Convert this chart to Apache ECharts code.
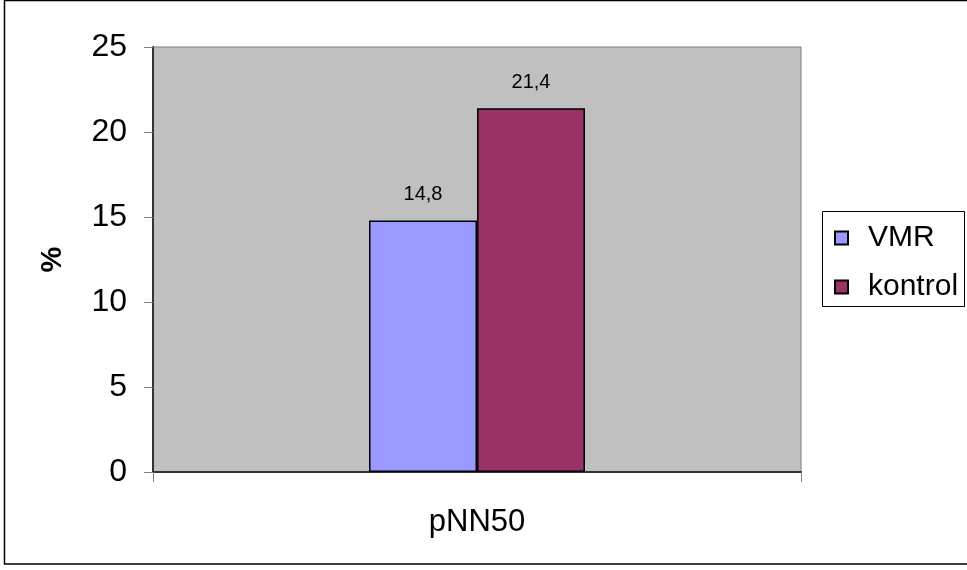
<!DOCTYPE html>
<html>
<head>
<meta charset="utf-8">
<script src="https://cdn.jsdelivr.net/npm/echarts@6/dist/echarts.min.js"></script>
<style>
  html, body { margin: 0; padding: 0; background: #fff; }
  #chart { width: 967px; height: 570px; }
</style>
</head>
<body>
<div id="chart"></div>
<script>
// Categories and group values
const categories = ['pNN50'];
const seriesNames = ['VMR', 'kontrol'];
const vmrValues = [14.8];
const kontrolValues = [21.4];
const yTicks = { min: 0, max: 25, step: 5 };

const FONT = '"Liberation Sans", Arial, sans-serif';
const commaLabel = p => String(p.value).replace('.', ',');

const chart = echarts.init(document.getElementById('chart'));

const barLabel = {
  show: true,
  position: 'top',
  distance: 16,
  formatter: commaLabel,
  color: '#000',
  fontFamily: FONT,
  fontSize: 20
};

chart.setOption({
  animation: false,
  backgroundColor: '#fff',
  textStyle: { fontFamily: FONT },
  graphic: [
    {
      type: 'rect',
      shape: { x: 4.5, y: 0.5, width: 975, height: 563.5 },
      style: { fill: null, stroke: '#000', lineWidth: 1.5 },
      silent: true
    },
    {
      type: 'rect',
      shape: { x: 822.5, y: 211.5, width: 142, height: 95 },
      style: { fill: '#fff', stroke: '#000', lineWidth: 1 },
      silent: true,
      z: 0
    }
  ],
  grid: {
    left: 153, right: 166, top: 47, bottom: 98,
    show: true,
    backgroundColor: '#C0C0C0',
    borderColor: '#808080',
    borderWidth: 1
  },
  legend: {
    orient: 'vertical',
    left: 829,
    top: 218,
    itemWidth: 13,
    itemHeight: 13,
    itemGap: 19,
    icon: 'rect',
    data: seriesNames,
    textStyle: { fontSize: 30, color: '#000', fontFamily: FONT, padding: [0, 0, 0, 15] },
    z: 5
  },
  xAxis: {
    type: 'category',
    data: categories,
    axisLine: { lineStyle: { color: '#333', width: 2 } },
    axisTick: { show: true, length: 10, lineStyle: { color: '#808080', width: 1 } },
    axisLabel: { fontSize: 31, color: '#000', margin: 35, fontFamily: FONT },
    splitLine: { show: false }
  },
  yAxis: {
    type: 'value',
    min: yTicks.min,
    max: yTicks.max,
    interval: yTicks.step,
    name: '%',
    nameLocation: 'middle',
    nameRotate: 90,
    nameGap: 86,
    nameTextStyle: { fontSize: 29, fontWeight: 'bold', color: '#000', fontFamily: FONT, padding: [0, 0, 0, 0] },
    axisLine: { show: true, lineStyle: { color: '#333', width: 2 } },
    axisTick: { show: true, length: 9, lineStyle: { color: '#808080', width: 1 } },
    axisLabel: { fontSize: 32, color: '#000', margin: 26, fontFamily: FONT },
    splitLine: { show: false }
  },
  series: [
    {
      name: seriesNames[0],
      type: 'bar',
      data: vmrValues,
      barGap: '0%',
      barCategoryGap: '66.67%',
      itemStyle: { color: '#9999FF', borderColor: '#000', borderWidth: 1.5 },
      label: barLabel
    },
    {
      name: seriesNames[1],
      type: 'bar',
      data: kontrolValues,
      barGap: '0%',
      barCategoryGap: '66.67%',
      itemStyle: { color: '#993366', borderColor: '#000', borderWidth: 1.5 },
      label: barLabel
    }
  ]
});
</script>
</body>
</html>
